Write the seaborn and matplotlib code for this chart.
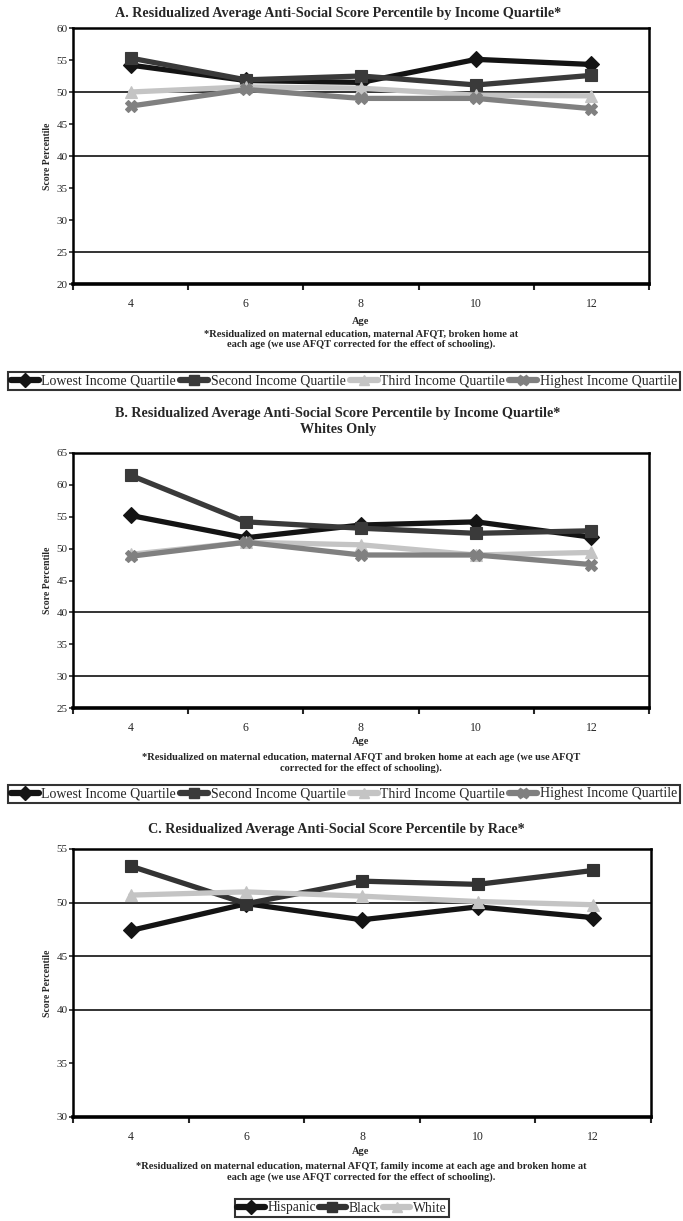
import matplotlib
matplotlib.use("Agg")
import matplotlib.pyplot as plt
from matplotlib.lines import Line2D
import seaborn as sns
import pandas as pd

sns.set_theme(style="white")
plt.rcParams['font.family'] = ['Liberation Serif', 'DejaVu Serif']

ages = [4, 6, 8, 10, 12]

income_groups = ["Lowest Income Quartile", "Second Income Quartile",
                 "Third Income Quartile", "Highest Income Quartile"]
a_lowest = [54.2, 51.8, 51.5, 55.1, 54.3]
a_second = [55.3, 51.9, 52.5, 51.1, 52.6]
a_third = [50.0, 50.8, 50.6, 49.5, 49.4]
a_highest = [47.8, 50.4, 49.0, 49.0, 47.4]

b_lowest = [55.2, 51.7, 53.7, 54.2, 51.8]
b_second = [61.5, 54.2, 53.2, 52.4, 52.8]
b_third = [49.1, 51.0, 50.6, 49.0, 49.4]
b_highest = [48.8, 51.0, 49.0, 49.0, 47.5]

race_groups = ["Hispanic", "Black", "White"]
c_hispanic = [47.4, 49.9, 48.4, 49.6, 48.6]
c_black = [53.4, 49.9, 52.0, 51.7, 53.0]
c_white = [50.7, 51.0, 50.6, 50.1, 49.8]

title_a = "A. Residualized Average Anti-Social Score Percentile by Income Quartile*"
title_b = "B. Residualized Average Anti-Social Score Percentile by Income Quartile*\nWhites Only"
title_c = "C. Residualized Average Anti-Social Score Percentile by Race*"
note_a = ("*Residualized on maternal education, maternal AFQT, broken home at\n"
          "each age (we use AFQT corrected for the effect of schooling).")
note_b = ("*Residualized on maternal education, maternal AFQT and broken home at each age (we use AFQT\n"
          "corrected for the effect of schooling).")
note_c = ("*Residualized on maternal education, maternal AFQT, family income at each age and broken home at\n"
          "each age (we use AFQT corrected for the effect of schooling).")


def long_df(groups, series):
    rows = []
    for g, vals in zip(groups, series):
        for a, v in zip(ages, vals):
            rows.append({"Age": a, "Score": v, "group": g})
    return pd.DataFrame(rows)


df_a = long_df(income_groups, [a_lowest, a_second, a_third, a_highest])
df_b = long_df(income_groups, [b_lowest, b_second, b_third, b_highest])
df_c = long_df(race_groups, [c_hispanic, c_black, c_white])

inc_colors = dict(zip(income_groups, ["#141414", "#3a3a3a", "#c4c4c4", "#808080"]))
inc_markers = dict(zip(income_groups, ["D", "s", "^", "X"]))
race_colors = dict(zip(race_groups, ["#141414", "#333333", "#c4c4c4"]))
race_markers = dict(zip(race_groups, ["D", "s", "^"]))

W, H = 683, 1221
fig = plt.figure(figsize=(W / 100, H / 100), dpi=100)


def px_axes(left, right, top, bottom):
    return fig.add_axes([left / W, 1 - bottom / H, (right - left) / W, (bottom - top) / H])


def style_axes(ax, ylim, refs):
    ax.set_xlim(3, 13)
    ax.set_ylim(*ylim)
    ax.set_yticks(range(ylim[0], ylim[1] + 1, 5))
    ax.set_xticks(ages)
    ax.set_xticks(range(3, 14, 2), minor=True)
    ax.tick_params(axis="x", which="major", length=0, labelsize=8.5, pad=10)
    ax.tick_params(axis="x", which="minor", length=4, width=1.5, direction="out", bottom=True)
    ax.tick_params(axis="y", which="major", length=3, width=1.2, direction="out", left=True,
                   labelsize=8, pad=1)
    for r in refs:
        ax.axhline(r, color="#111111", lw=1.2, zorder=1)
    for s in ax.spines.values():
        s.set_color("black")
        s.set_linewidth(1.8)
    ax.spines["bottom"].set_linewidth(2.6)
    ax.set_xlabel("")
    ax.set_ylabel("Score Percentile", fontsize=7, fontweight="bold", labelpad=3)
    ax.grid(False)


def draw(ax, df, colors, markers):
    sns.lineplot(data=df, x="Age", y="Score", hue="group", style="group",
                 palette=colors, markers=markers, dashes=False, linewidth=3.8,
                 markersize=8, markeredgewidth=0.8, legend=False, ax=ax, zorder=3)
    for ln in ax.lines:
        ln.set_markeredgecolor(ln.get_color())


def legend(groups, colors, markers, xc, yc, fs, colsp):
    handles = [Line2D([0], [0], color=colors[g], lw=4.5, marker=markers[g], markersize=7.5,
                      markeredgecolor=colors[g]) for g in groups]
    leg = fig.legend(handles, groups, ncol=len(groups), frameon=True, fancybox=False,
                     edgecolor="black", fontsize=fs, handlelength=2.0, handletextpad=0.2,
                     columnspacing=colsp, borderpad=0.2, borderaxespad=0,
                     loc="center", bbox_to_anchor=(xc / W, 1 - yc / H))
    leg.get_frame().set_linewidth(1.5)
    return leg


# Panel A
ax_a = px_axes(73, 649, 28, 284)
draw(ax_a, df_a, inc_colors, inc_markers)
style_axes(ax_a, (20, 60), [50, 40, 25])
fig.text(338 / W, 1 - 14 / H, title_a, ha="center", va="center", fontsize=10.2, fontweight="bold")
fig.text(361 / W, 1 - 321 / H, "Age", ha="center", va="center", fontsize=7.5, fontweight="bold")
fig.text(361 / W, 1 - 339 / H, note_a, ha="center", va="center", fontsize=7.5, fontweight="bold",
         linespacing=1.2)
legend(income_groups, inc_colors, inc_markers, 344, 381, 10.0, 0.3)

# Panel B
ax_b = px_axes(73, 649, 453, 708)
draw(ax_b, df_b, inc_colors, inc_markers)
style_axes(ax_b, (25, 65), [40, 30])
fig.text(338 / W, 1 - 421 / H, title_b, ha="center", va="center", fontsize=10.2, fontweight="bold",
         linespacing=1.3)
fig.text(361 / W, 1 - 742 / H, "Age", ha="center", va="center", fontsize=7.5, fontweight="bold")
fig.text(361 / W, 1 - 763 / H, note_b, ha="center", va="center", fontsize=7.5, fontweight="bold",
         linespacing=1.2)
legend(income_groups, inc_colors, inc_markers, 344, 794, 10.0, 0.3)

# Panel C
ax_c = px_axes(73, 651, 849, 1117)
draw(ax_c, df_c, race_colors, race_markers)
style_axes(ax_c, (30, 55), [50, 45, 40])
fig.text(336 / W, 1 - 830 / H, title_c, ha="center", va="center", fontsize=10.2, fontweight="bold")
fig.text(361 / W, 1 - 1152 / H, "Age", ha="center", va="center", fontsize=7.5, fontweight="bold")
fig.text(361 / W, 1 - 1172 / H, note_c, ha="center", va="center", fontsize=7.5, fontweight="bold",
         linespacing=1.2)
legend(race_groups, race_colors, race_markers, 342, 1208, 9.8, 0.2)

fig.savefig("out.png", dpi=100)
